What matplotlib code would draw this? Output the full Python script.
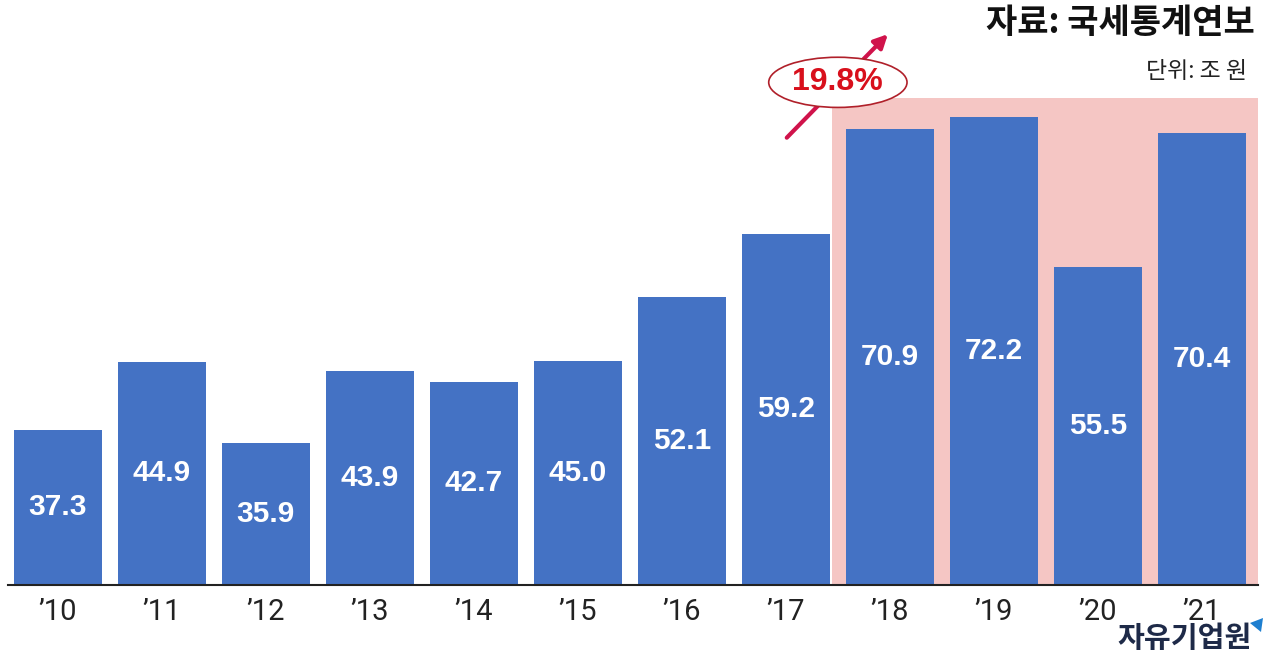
import matplotlib
matplotlib.use("Agg")
import matplotlib.pyplot as plt
from matplotlib.patches import Ellipse, Rectangle, Polygon

years = ["’10", "’11", "’12", "’13", "’14", "’15", "’16", "’17", "’18", "’19", "’20", "’21"]
values = [37.3, 44.9, 35.9, 43.9, 42.7, 45.0, 52.1, 59.2, 70.9, 72.2, 55.5, 70.4]
growth_label = "19.8%"
title = "자료: 국세통계연보"
unit = "단위: 조 원"
logo = "자유기업원"

W, H = 1265, 656
fig = plt.figure(figsize=(W / 100, H / 100), dpi=100)
ax_left, ax_right, ax_bottom = 8, 1258, 585
ax = fig.add_axes([ax_left / W, 1 - ax_bottom / H, (ax_right - ax_left) / W, ax_bottom / H])
ax.set_xlim(-0.48, 11.54)
ax.set_ylim(20, 20 + 585 / 8.96)

blue = "#4472C4"
pink = "#F5C6C4"

# highlight region
ax.add_patch(Rectangle((7.44, 20), 11.54 - 7.44, 74.35 - 20, facecolor=pink, edgecolor="none", zorder=0))

x = list(range(len(values)))
bars = ax.bar(x, values, width=0.84, color=blue, zorder=2)
for xi, v in zip(x, values):
    ax.text(xi, (20 + v) / 2, f"{v:.1f}", ha="center", va="center", color="white",
            fontsize=21.5, fontweight="bold", family="Liberation Sans", zorder=3)

for s in ["top", "right", "left"]:
    ax.spines[s].set_visible(False)
ax.spines["bottom"].set_linewidth(1.5)
ax.spines["bottom"].set_color("#222222")
ax.set_yticks([])
ax.set_xticks(x)
ax.set_xticklabels(years, fontsize=21, family="Roboto", color="#222222")
ax.tick_params(axis="x", length=0, pad=9)

# arrow and ellipse
ax.annotate("", xy=(8.0, 81.7), xytext=(6.99, 69.7),
            arrowprops=dict(arrowstyle="-|>,head_length=0.8,head_width=0.4", color="#D0134B", lw=3),
            annotation_clip=False, zorder=4)
ax.add_patch(Ellipse((7.5, 76.1), 1.33, 5.6, facecolor="white", edgecolor="#B0202A", lw=1.2,
                     zorder=5, clip_on=False))
ax.text(7.5, 76.1, growth_label, ha="center", va="center", color="#D8101C", fontsize=23,
        fontweight="bold", family="Liberation Sans", zorder=6, clip_on=False)

ko = ["Noto Sans CJK KR", "DejaVu Sans"]
fig.text(1255 / W, 1 - 23 / H, title, ha="right", va="center", fontsize=24.5, fontweight="bold",
         family=ko, color="#111111")
fig.text(1247 / W, 1 - 72 / H, unit, ha="right", va="center", fontsize=16.5, family=ko, color="#222222")

fig.text(1252 / W, 1 - 638 / H, logo, ha="right", va="center", fontsize=21, fontweight="black",
         fontstyle="italic", family=ko, color="#1E2A48")
fig.patches.append(Polygon([(1250 / W, 1 - 623 / H), (1263 / W, 1 - 618 / H), (1261 / W, 1 - 632 / H)],
                           closed=True, transform=fig.transFigure, facecolor="#1E7FD0", edgecolor="none"))

fig.savefig("out.png", dpi=100)
